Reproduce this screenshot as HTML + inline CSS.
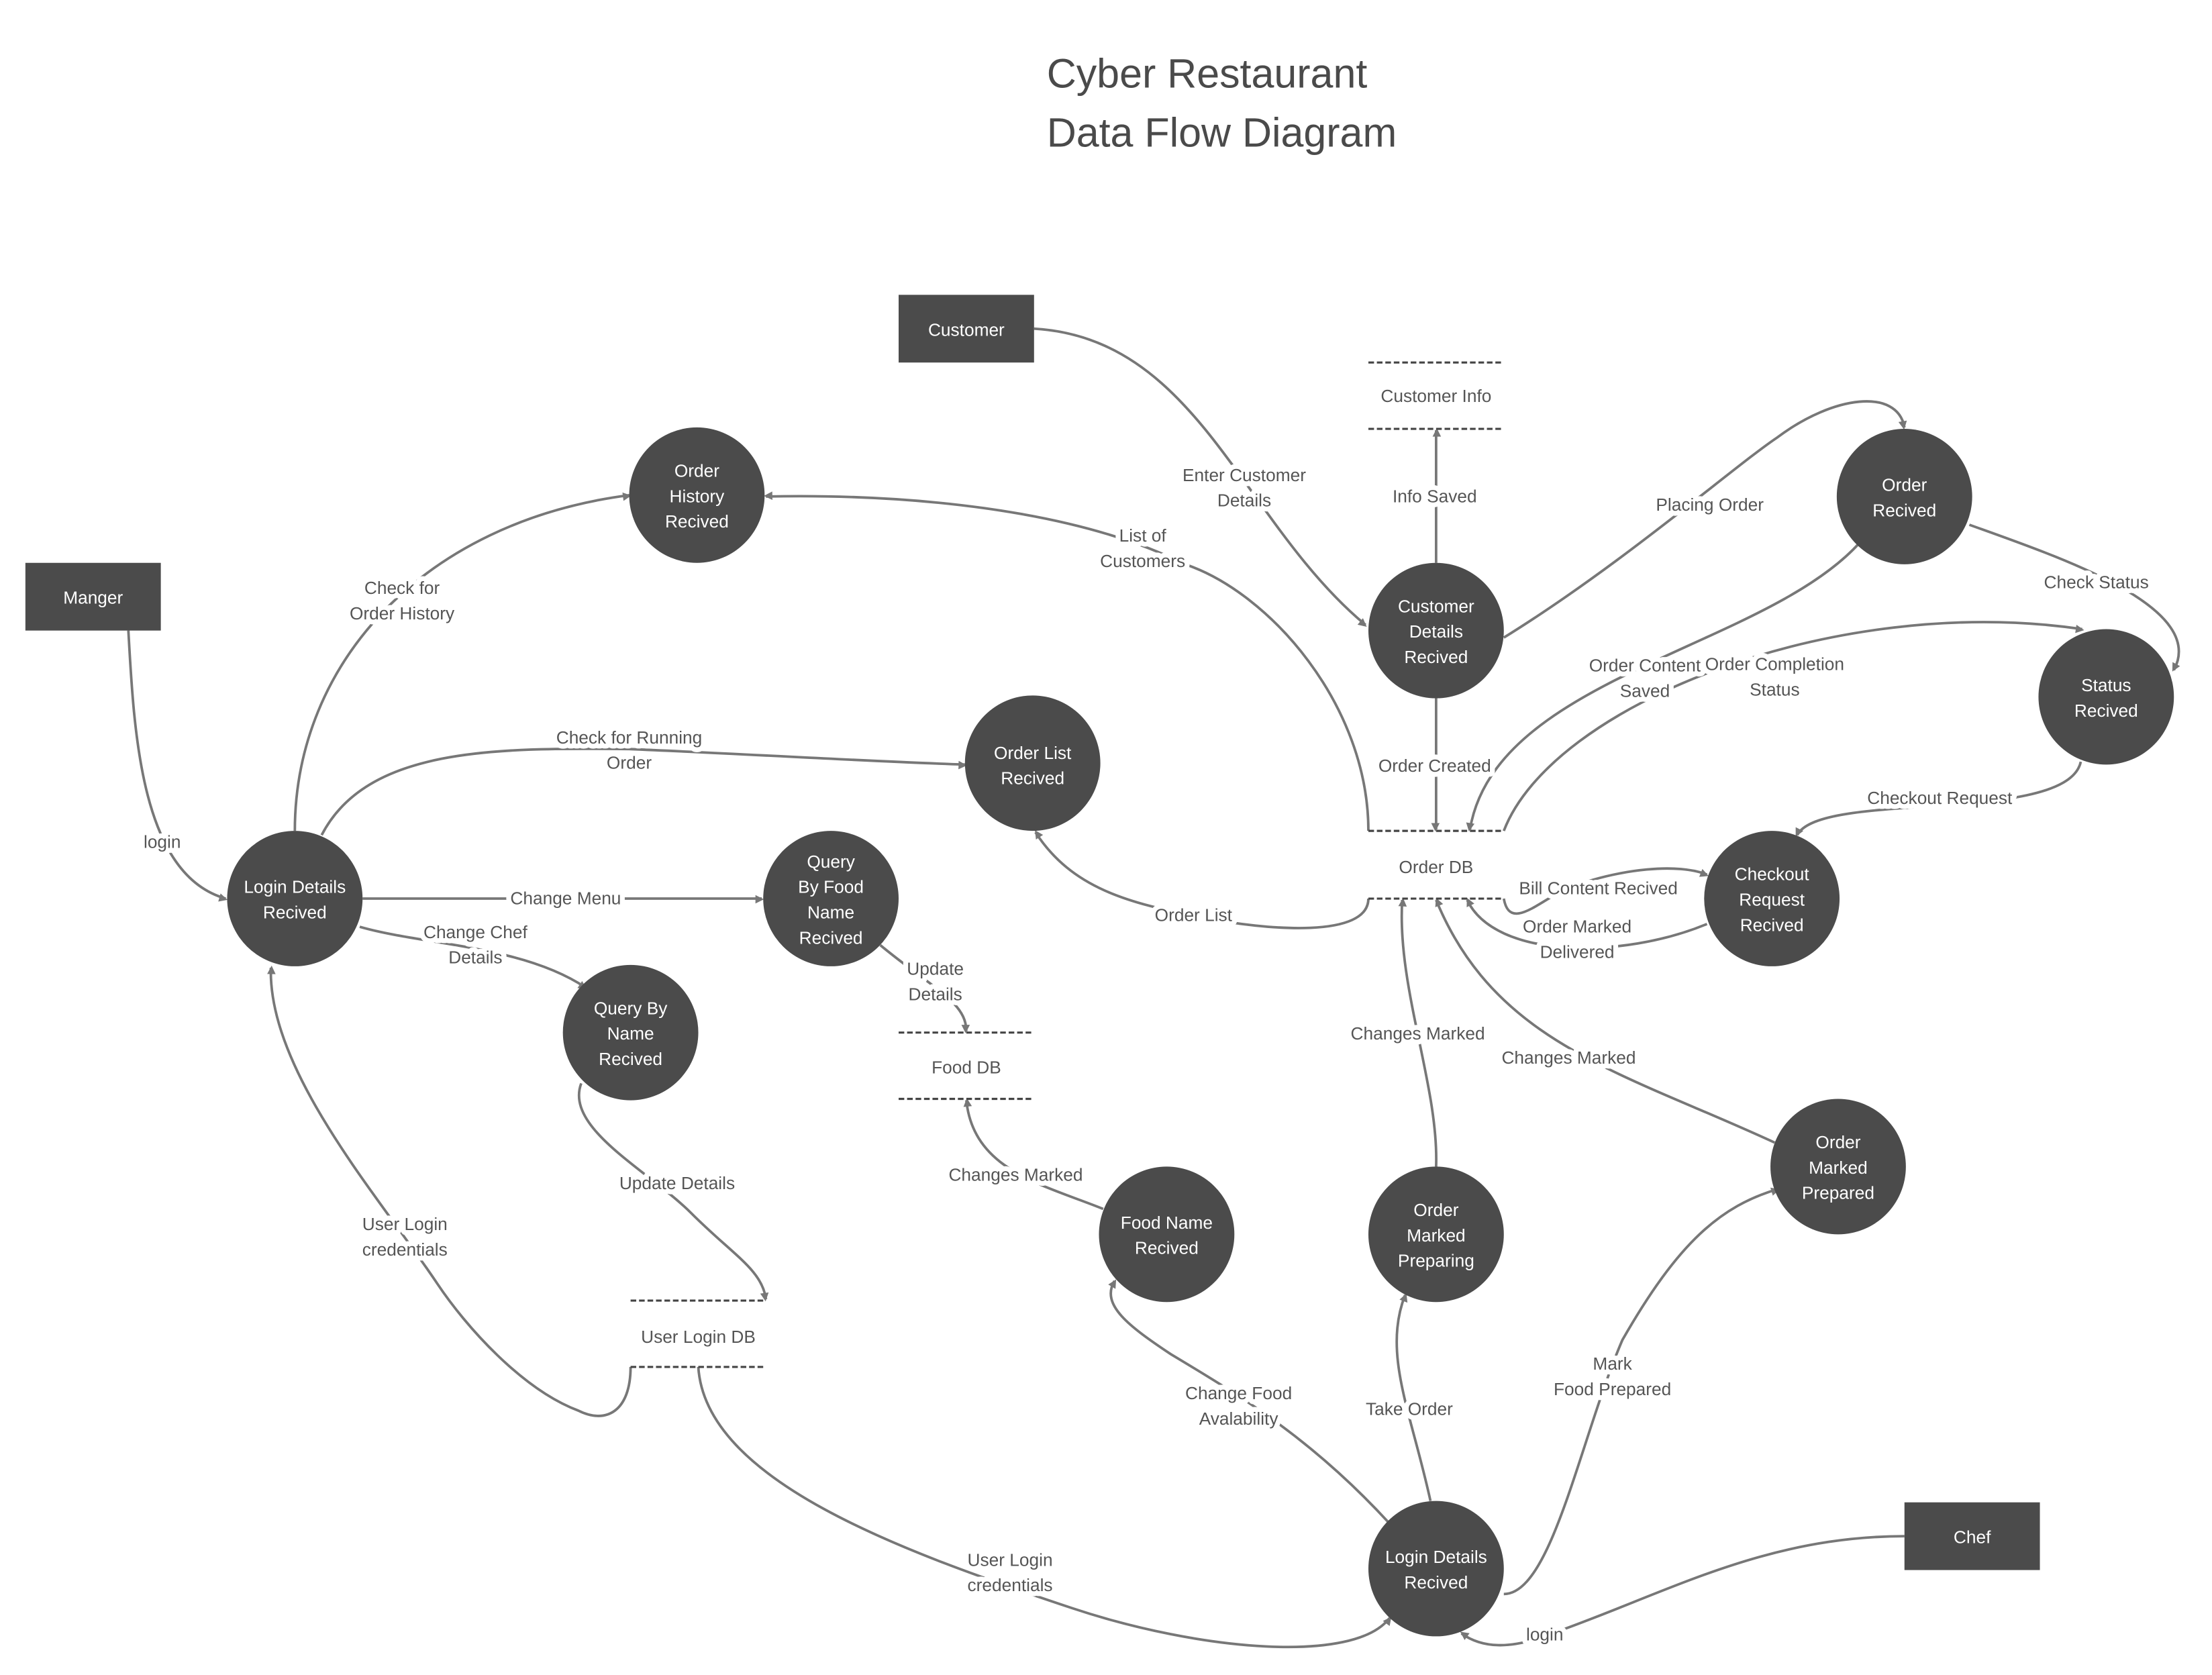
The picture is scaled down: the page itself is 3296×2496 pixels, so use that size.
<!DOCTYPE html>
<html><head><meta charset="utf-8"><style>
html,body{margin:0;padding:0;background:#fff;}
svg{display:block;}
.t{font-family:"Liberation Sans",sans-serif;}
.lbl{font-family:"Liberation Sans",sans-serif;font-size:12.5px;fill:#555;text-anchor:middle;paint-order:stroke;stroke:#fff;stroke-width:7px;stroke-linejoin:round;}
.node{fill:#4b4b4b;}
.nt{font-family:"Liberation Sans",sans-serif;font-size:12.5px;fill:#fff;text-anchor:middle;}
.e{fill:none;stroke:#777;stroke-width:1.8;marker-end:url(#ar);}
.ds{stroke:#444;stroke-width:1.5;stroke-dasharray:4 2;}
.dt{font-family:"Liberation Sans",sans-serif;font-size:12.5px;fill:#555;text-anchor:middle;}
</style></head><body>
<svg width="3296" height="2496" viewBox="0 0 1568 1187.4" preserveAspectRatio="none" xmlns="http://www.w3.org/2000/svg">
<defs><marker id="ar" viewBox="0 0 10 10" refX="9" refY="5" markerWidth="5" markerHeight="5" orient="auto" markerUnits="userSpaceOnUse" style="overflow:visible"><path d="M0,0 L10,5 L0,10 z" fill="#777" transform="scale(1.2)"/></marker></defs>
<rect width="1568" height="1188" fill="#fff"/>
<text class="t" x="742" y="62" font-size="29" fill="#4a4a4a">Cyber Restaurant</text>
<text class="t" x="742" y="104" font-size="29" fill="#4a4a4a">Data Flow Diagram</text>

<path class="e" d="M733,233 C850,240 880,370 968,443"/>
<path class="e" d="M1018,399 L1018,305"/>
<path class="e" d="M1066,452 C1150,400 1230,330 1260,310 C1300,280 1345,275 1350,303"/>
<path class="e" d="M1396,372 C1460,395 1565,430 1541,475"/>
<path class="e" d="M1318,385 C1250,460 1060,480 1042,588"/>
<path class="e" d="M1066,589 C1100,500 1300,420 1476,446"/>
<path class="e" d="M1475,540 C1465,585 1290,560 1274,592"/>
<path class="e" d="M1210,655 C1150,680 1060,680 1040,638"/>
<path class="e" d="M1066,637 C1070,660 1090,640 1110,630 C1150,615 1190,612 1210,620"/>
<path class="e" d="M970,637 C970,665 900,660 850,650 C800,640 760,630 734,590"/>
<path class="e" d="M970,589 C970,500 900,420 840,400 C760,360 640,350 543,352"/>
<path class="e" d="M1018,495 L1018,588"/>
<path class="e" d="M1018,827 C1020,770 990,700 994,638"/>
<path class="e" d="M1258,810 C1150,760 1060,740 1018,638"/>
<path class="e" d="M1014,1064 C1000,1000 980,960 996,918"/>
<path class="e" d="M1066,1130 C1100,1130 1120,1020 1150,950 C1190,880 1220,855 1260,843"/>
<path class="e" d="M985,1080 C930,1020 880,990 830,960 C800,940 780,925 790,908"/>
<path class="e" d="M1350,1089 C1250,1089 1180,1130 1100,1158 C1070,1170 1050,1168 1036,1158"/>
<path class="e" d="M782,857 C740,840 690,830 685,780"/>
<path class="e" d="M624,670 C660,700 685,710 685,731"/>
<path class="e" d="M412,768 C400,800 460,830 490,860 C520,890 540,900 543,921"/>
<path class="e" d="M495,969 C500,1050 640,1100 760,1140 C850,1170 960,1180 985,1147"/>
<path class="e" d="M447,969 C447,1000 430,1010 410,1000 C370,985 330,940 310,910 C270,850 190,760 192,686"/>
<path class="e" d="M91,447 C95,520 100,620 160,637"/>
<path class="e" d="M209,589 C209,470 300,370 446,351"/>
<path class="e" d="M228,592 C260,530 350,530 446,531 C540,535 620,540 684,542"/>
<path class="e" d="M257,637 L540,637"/>
<path class="e" d="M255,657 C300,670 370,670 415,700"/>

<text class="lbl" x="882" y="341">Enter Customer</text><text class="lbl" x="882" y="359">Details</text>
<text class="lbl" x="1017" y="356">Info Saved</text>
<text class="lbl" x="1212" y="362">Placing Order</text>
<text class="lbl" x="1486" y="417">Check Status</text>
<text class="lbl" x="1166" y="476">Order Content</text><text class="lbl" x="1166" y="494">Saved</text>
<text class="lbl" x="1258" y="475">Order Completion</text><text class="lbl" x="1258" y="493">Status</text>
<text class="lbl" x="1375" y="570">Checkout Request</text>
<text class="lbl" x="1133" y="634">Bill Content Recived</text>
<text class="lbl" x="1118" y="661">Order Marked</text><text class="lbl" x="1118" y="679">Delivered</text>
<text class="lbl" x="846" y="653">Order List</text>
<text class="lbl" x="810" y="384">List of</text><text class="lbl" x="810" y="402">Customers</text>
<text class="lbl" x="1017" y="547">Order Created</text>
<text class="lbl" x="1005" y="737">Changes Marked</text>
<text class="lbl" x="1112" y="754">Changes Marked</text>
<text class="lbl" x="999" y="1003">Take Order</text>
<text class="lbl" x="1143" y="971">Mark</text><text class="lbl" x="1143" y="989">Food Prepared</text>
<text class="lbl" x="878" y="992">Change Food</text><text class="lbl" x="878" y="1010">Avalability</text>
<text class="lbl" x="1095" y="1163">login</text>
<text class="lbl" x="720" y="837">Changes Marked</text>
<text class="lbl" x="663" y="691">Update</text><text class="lbl" x="663" y="709">Details</text>
<text class="lbl" x="480" y="843">Update Details</text>
<text class="lbl" x="716" y="1110">User Login</text><text class="lbl" x="716" y="1128">credentials</text>
<text class="lbl" x="287" y="872">User Login</text><text class="lbl" x="287" y="890">credentials</text>
<text class="lbl" x="115" y="601">login</text>
<text class="lbl" x="285" y="421">Check for</text><text class="lbl" x="285" y="439">Order History</text>
<text class="lbl" x="446" y="527">Check for Running</text><text class="lbl" x="446" y="545">Order</text>
<text class="lbl" x="401" y="641">Change Menu</text>
<text class="lbl" x="337" y="665">Change Chef</text><text class="lbl" x="337" y="683">Details</text>

<line class="ds" x1="970" y1="257" x2="1066" y2="257"/><line class="ds" x1="970" y1="304" x2="1066" y2="304"/>
<text class="dt" x="1018" y="285">Customer Info</text>
<line class="ds" x1="970" y1="589" x2="1066" y2="589"/><line class="ds" x1="970" y1="637" x2="1066" y2="637"/>
<text class="dt" x="1018" y="619">Order DB</text>
<line class="ds" x1="637" y1="732" x2="733" y2="732"/><line class="ds" x1="637" y1="779" x2="733" y2="779"/>
<text class="dt" x="685" y="761">Food DB</text>
<line class="ds" x1="447" y1="922" x2="543" y2="922"/><line class="ds" x1="447" y1="969" x2="543" y2="969"/>
<text class="dt" x="495" y="952">User Login DB</text>

<rect class="node" x="637" y="209" width="96" height="48"/><text class="nt" x="685" y="238">Customer</text>
<rect class="node" x="18" y="399" width="96" height="48"/><text class="nt" x="66" y="428">Manger</text>
<rect class="node" x="1350" y="1065" width="96" height="48"/><text class="nt" x="1398" y="1094">Chef</text>

<g>
<circle class="node" cx="494" cy="351" r="48"/><text class="nt" x="494" y="338">Order</text><text class="nt" x="494" y="356">History</text><text class="nt" x="494" y="374">Recived</text>
<circle class="node" cx="209" cy="637" r="48"/><text class="nt" x="209" y="633">Login Details</text><text class="nt" x="209" y="651">Recived</text>
<circle class="node" cx="732" cy="541" r="48"/><text class="nt" x="732" y="538">Order List</text><text class="nt" x="732" y="556">Recived</text>
<circle class="node" cx="589" cy="637" r="48"/><text class="nt" x="589" y="615">Query</text><text class="nt" x="589" y="633">By Food</text><text class="nt" x="589" y="651">Name</text><text class="nt" x="589" y="669">Recived</text>
<circle class="node" cx="447" cy="732" r="48"/><text class="nt" x="447" y="719">Query By</text><text class="nt" x="447" y="737">Name</text><text class="nt" x="447" y="755">Recived</text>
<circle class="node" cx="1018" cy="447" r="48"/><text class="nt" x="1018" y="434">Customer</text><text class="nt" x="1018" y="452">Details</text><text class="nt" x="1018" y="470">Recived</text>
<circle class="node" cx="1350" cy="352" r="48"/><text class="nt" x="1350" y="348">Order</text><text class="nt" x="1350" y="366">Recived</text>
<circle class="node" cx="1493" cy="494" r="48"/><text class="nt" x="1493" y="490">Status</text><text class="nt" x="1493" y="508">Recived</text>
<circle class="node" cx="1256" cy="637" r="48"/><text class="nt" x="1256" y="624">Checkout</text><text class="nt" x="1256" y="642">Request</text><text class="nt" x="1256" y="660">Recived</text>
<circle class="node" cx="827" cy="875" r="48"/><text class="nt" x="827" y="871">Food Name</text><text class="nt" x="827" y="889">Recived</text>
<circle class="node" cx="1018" cy="875" r="48"/><text class="nt" x="1018" y="862">Order</text><text class="nt" x="1018" y="880">Marked</text><text class="nt" x="1018" y="898">Preparing</text>
<circle class="node" cx="1303" cy="827" r="48"/><text class="nt" x="1303" y="814">Order</text><text class="nt" x="1303" y="832">Marked</text><text class="nt" x="1303" y="850">Prepared</text>
<circle class="node" cx="1018" cy="1112" r="48"/><text class="nt" x="1018" y="1108">Login Details</text><text class="nt" x="1018" y="1126">Recived</text>
</g>
</svg>
</body></html>
